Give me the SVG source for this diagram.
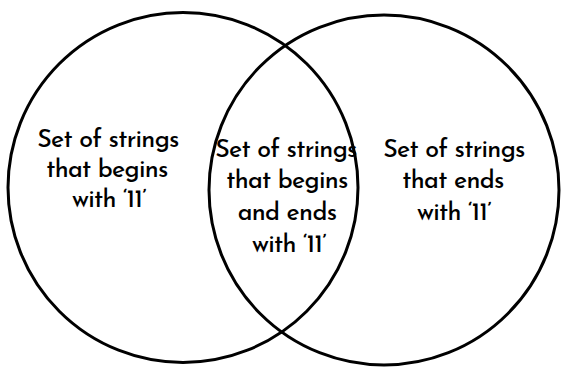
<svg xmlns="http://www.w3.org/2000/svg" width="561" height="367" viewBox="0 0 561 367">
<style>
.set{fill:none;stroke:#000;stroke-width:3}
.lbl{font-family:"Josefin Sans","Liberation Sans",Arial,sans-serif;font-size:25px;font-weight:500;letter-spacing:-0.7px;fill:#000;text-anchor:middle}
</style>
<rect width="561" height="367" fill="#fff"/>
<g id="connectors"></g>
<g id="setA">
<circle class="set" cx="183" cy="187.5" r="175"/>
<text class="lbl"><tspan x="108" y="147">Set of strings</tspan><tspan x="107" y="177">that begins</tspan><tspan x="109" y="207">with ‘11’</tspan></text>
</g>
<g id="setB">
<circle class="set" cx="384" cy="190" r="175"/>
<text class="lbl"><tspan x="454" y="157">Set of strings</tspan><tspan x="453" y="188">that ends</tspan><tspan x="454" y="220">with ‘11’</tspan></text>
</g>
<g id="intersection">
<text class="lbl"><tspan x="286" y="157">Set of strings</tspan><tspan x="287" y="188">that begins</tspan><tspan x="287" y="220">and ends</tspan><tspan x="289" y="252">with ‘11’</tspan></text>
</g>
</svg>
